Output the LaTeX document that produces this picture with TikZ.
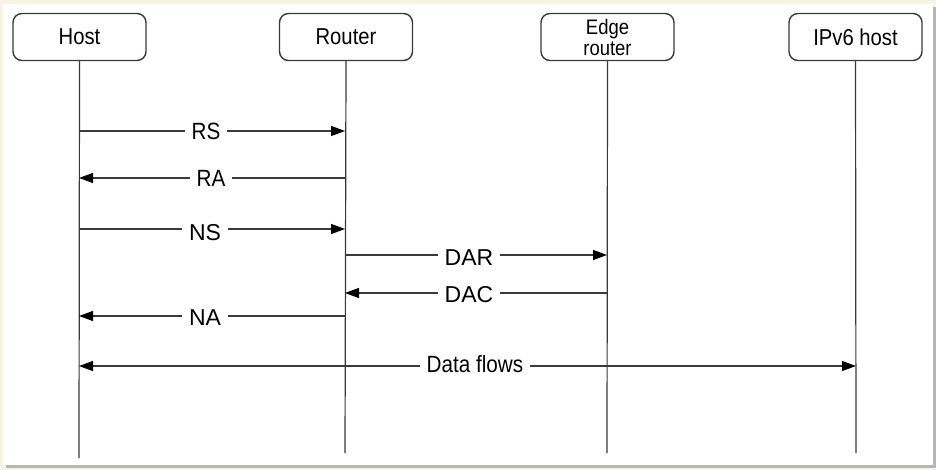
\documentclass[tikz,border=0pt]{standalone}
\usepackage{fontspec}
\setmainfont{Liberation Sans}
\newfontfamily\narrowfont[FakeStretch=0.88]{Liberation Sans}
\usetikzlibrary{arrows.meta}
\definecolor{cream}{HTML}{F6F4E2}
\definecolor{shadowgray}{HTML}{B8B8B0}
\definecolor{linegray}{HTML}{3A3A3A}
\tikzset{
  actor/.style={draw=linegray, line width=1.4pt, rounded corners=9pt, minimum width=133pt, minimum height=47pt, inner sep=0pt, align=center, font=\narrowfont\fontsize{23}{19.5}\selectfont},
  life/.style={draw=linegray, line width=1.2pt},
  msg/.style={draw=linegray, line width=1.2pt, -{Triangle[length=14pt,width=10pt,color=black]}},
  lblA/.style={fill=white, inner xsep=7pt, inner ysep=1pt, font=\narrowfont\fontsize{23.5}{23}\selectfont},
  lblB/.style={fill=white, inner xsep=7pt, inner ysep=1pt, font=\fontsize{23}{23}\selectfont},
}
\begin{document}
\begin{tikzpicture}[x=1pt,y=-1pt]
\useasboundingbox (0,0) rectangle (936,470);
\fill[cream] (0,0) rectangle (936,470);
\fill[shadowgray] (6,7) rectangle (936,468);
\fill[white] (3,4) rectangle (933,465);

\node[actor] (host) at (79.5,37) {Host};
\node[actor] (router) at (346,37) {Router};
\node[actor, font=\narrowfont\fontsize{21}{21}\selectfont] (edge) at (607.5,37) {Edge\\router};
\node[actor] (ipv6) at (855.5,37) {IPv6 host};

\coordinate (hostEnd) at (79,458);
\coordinate (routerEnd) at (345,453);
\coordinate (edgeEnd) at (607,453);
\coordinate (ipv6End) at (856,453);

\draw[life] (host.south) -- (hostEnd);
\draw[life] (router.south) -- (routerEnd);
\draw[life] (edge.south) -- (edgeEnd);
\draw[life] (ipv6.south) -- (ipv6End);

% RS
\coordinate (rsA) at (79,131); \coordinate (rsB) at (345,131);
\draw[msg] (rsA) -- (rsB);
\node[lblA] (rs) at (206,131) {RS};
% RA
\coordinate (raA) at (345,178); \coordinate (raB) at (79,178);
\draw[msg] (raA) -- (raB);
\node[lblA] (ra) at (211,178) {RA};
% NS
\coordinate (nsA) at (79,229); \coordinate (nsB) at (345,229);
\draw[msg] (nsA) -- (nsB);
\node[lblB] (ns) at (205,233) {NS};
% DAR
\coordinate (darA) at (345,255); \coordinate (darB) at (607,255);
\draw[msg] (darA) -- (darB);
\node[lblB] (dar) at (469,258) {DAR};
% DAC
\coordinate (dacA) at (607,293); \coordinate (dacB) at (345,293);
\draw[msg] (dacA) -- (dacB);
\node[lblB] (dac) at (469,295) {DAC};
% NA
\coordinate (naA) at (345,316); \coordinate (naB) at (79,316);
\draw[msg] (naA) -- (naB);
\node[lblB] (na) at (205,318) {NA};
% Data flows
\coordinate (dfA) at (79,366); \coordinate (dfB) at (856,366);
\draw[msg, {Triangle[length=14pt,width=10pt,color=black]}-{Triangle[length=14pt,width=10pt,color=black]}] (dfA) -- (dfB);
\node[lblA] (df) at (475,364) {Data flows};
\end{tikzpicture}
\end{document}
